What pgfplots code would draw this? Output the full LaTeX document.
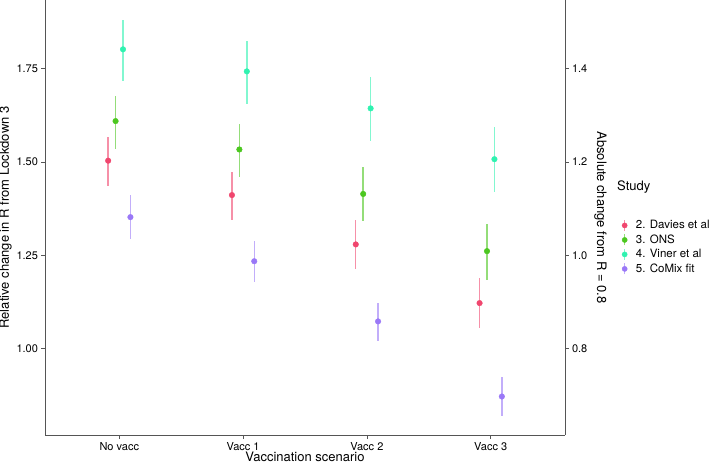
\documentclass[border=0pt]{standalone}
\usepackage{fontspec}
\setmainfont{TeX Gyre Heros}
\usepackage{pgfplots}
\pgfplotsset{compat=1.18}
\usepackage{pgfplotstable}

\definecolor{davies}{RGB}{240,70,110}
\definecolor{ons}{RGB}{76,199,32}
\definecolor{viner}{RGB}{47,242,176}
\definecolor{comix}{RGB}{154,120,247}
\definecolor{axisgrey}{RGB}{85,85,85}

% scenario: 1 No vacc, 2 Vacc 1, 3 Vacc 2, 4 Vacc 3
\pgfplotstableread{
x y lo hi
1 1.503 1.436 1.566
2 1.411 1.345 1.473
3 1.279 1.213 1.344
4 1.122 1.056 1.189
}\davies
\pgfplotstableread{
x y lo hi
1 1.609 1.534 1.676
2 1.533 1.459 1.601
3 1.414 1.341 1.486
4 1.261 1.185 1.333
}\ons
\pgfplotstableread{
x y lo hi
1 1.801 1.717 1.880
2 1.742 1.656 1.823
3 1.643 1.556 1.727
4 1.507 1.418 1.594
}\viner
\pgfplotstableread{
x y lo hi
1 1.352 1.294 1.411
2 1.234 1.178 1.287
3 1.073 1.020 1.123
4 0.872 0.820 0.923
}\comix

\pgfplotsset{
  base/.style={
    scale only axis, width=520pt, height=435pt,
    xmin=0.4, xmax=4.6,
    axis line style={axisgrey, line width=0.8pt},
    tick style={axisgrey, line width=0.6pt},
    major tick length=3.5pt, tick align=outside,
    tick label style={font=\fontsize{11}{13}\selectfont, text=black},
    label style={font=\fontsize{13}{15}\selectfont},
    /pgf/number format/assume math mode=true,
  },
  study/.style={
    color=#1, only marks, mark=*, mark size=2.8pt,
    mark options={draw=#1, fill=#1},
    error bars/.cd, y dir=both, y explicit,
    error bar style={color=#1, line width=1.4pt, draw opacity=0.6}, error mark=none,
  },
}

\begin{document}
\begin{tikzpicture}
\path[use as bounding box] (-45pt,-31pt) rectangle (664pt,435pt);
\begin{axis}[base, at={(0,0)}, anchor=south west,
  ymin=0.769, ymax=1.933,
  axis x line*=bottom, axis y line*=left,
  xtick={1,2,3,4}, xticklabels={No vacc, Vacc 1, Vacc 2, Vacc 3},
  ytick={1.00,1.25,1.50,1.75},
  yticklabel style={/pgf/number format/.cd, fixed, fixed zerofill, precision=2},
  xlabel={Vaccination scenario}, ylabel={Relative change in R from Lockdown 3},
  xlabel style={yshift=5pt}, ylabel style={yshift=-2pt},
  legend image code/.code={
    \draw[line width=1.4pt, draw opacity=0.6] (0.4em,-0.55em) -- (0.4em,0.55em);
    \fill (0.4em,0) circle (2.6pt);},
  legend style={at={(axis description cs:1.109,0.497)}, anchor=north west, draw=none,
    fill=none, inner sep=0pt, font=\fontsize{11.5}{13}\selectfont, row sep=1.5pt,
    nodes={inner sep=1.5pt},
    /tikz/every odd column/.append style={column sep=7pt}},
  legend cell align=left,
  clip=false,
]
\addplot[study=davies] table[x expr=\thisrow{x}-0.09, y=y,
  y error plus expr=\thisrow{hi}-\thisrow{y}, y error minus expr=\thisrow{y}-\thisrow{lo}] {\davies};
\addlegendentry{2. Davies et al}
\addplot[study=ons] table[x expr=\thisrow{x}-0.03, y=y,
  y error plus expr=\thisrow{hi}-\thisrow{y}, y error minus expr=\thisrow{y}-\thisrow{lo}] {\ons};
\addlegendentry{3. ONS}
\addplot[study=viner] table[x expr=\thisrow{x}+0.03, y=y,
  y error plus expr=\thisrow{hi}-\thisrow{y}, y error minus expr=\thisrow{y}-\thisrow{lo}] {\viner};
\addlegendentry{4. Viner et al}
\addplot[study=comix] table[x expr=\thisrow{x}+0.09, y=y,
  y error plus expr=\thisrow{hi}-\thisrow{y}, y error minus expr=\thisrow{y}-\thisrow{lo}] {\comix};
\addlegendentry{5. CoMix fit}
\node[anchor=west, inner sep=0pt, font=\fontsize{13}{15}\selectfont] at (axis description cs:1.100,0.570) {Study};
\end{axis}
\begin{axis}[base, at={(0,0)}, anchor=south west,
  ymin=0.6152, ymax=1.5464,
  axis x line=none, axis y line*=right,
  ytick={0.8,1.0,1.2,1.4},
  yticklabel style={/pgf/number format/.cd, fixed, fixed zerofill, precision=1},
  ylabel={Absolute change from R = 0.8},
  ylabel style={rotate=180, yshift=0pt},
]
\end{axis}
\end{tikzpicture}
\end{document}
